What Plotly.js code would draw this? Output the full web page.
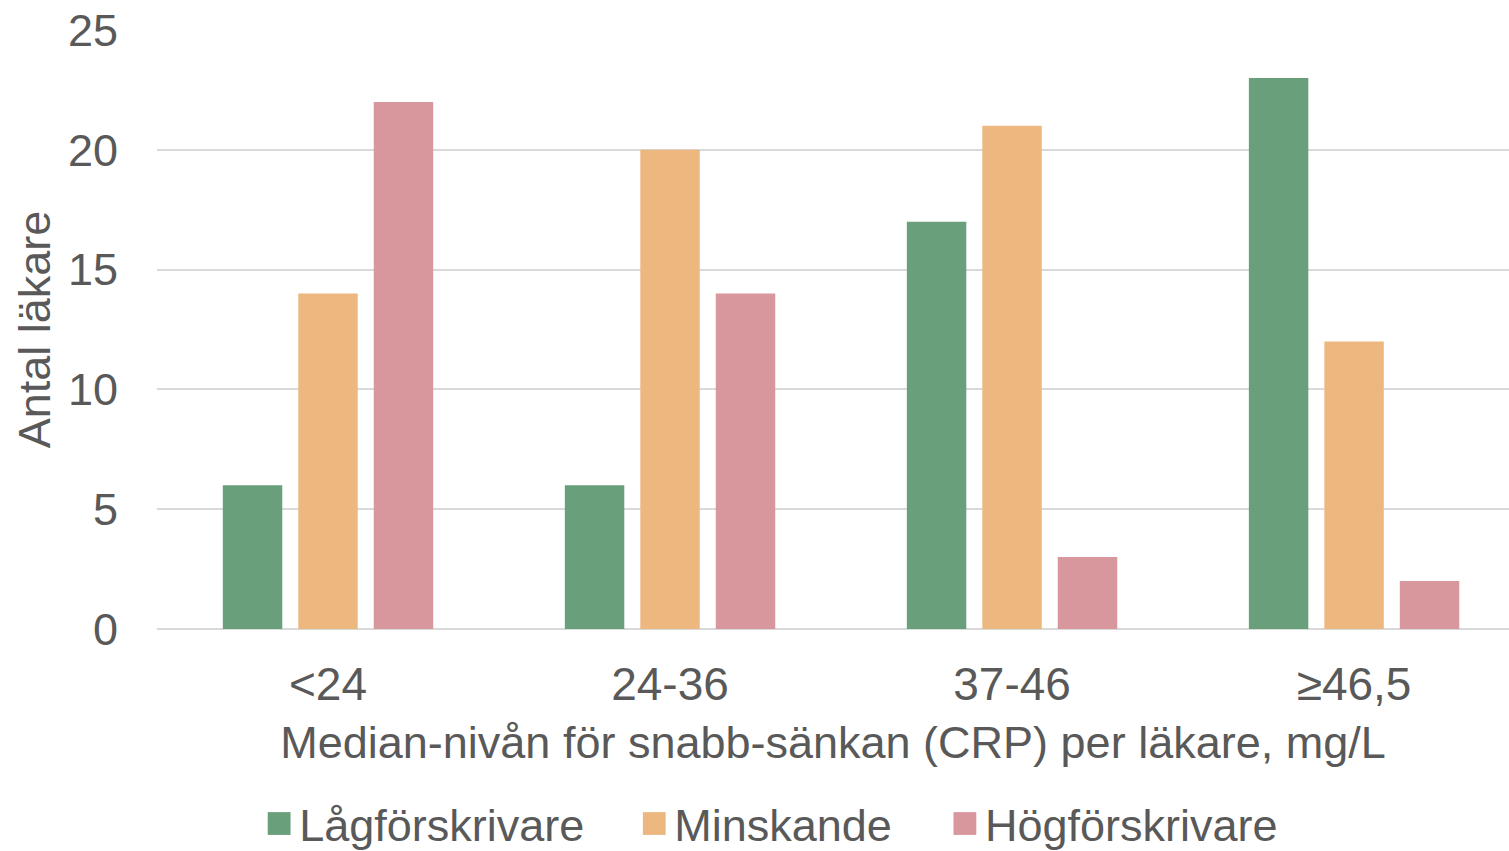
<!DOCTYPE html>
<html>
<head>
<meta charset="utf-8">
<script src="https://cdn.plot.ly/plotly-3.0.1.min.js"></script>
<style>html,body{margin:0;padding:0;background:#fff;}#chart{width:1509px;height:851px;}</style>
</head>
<body>
<div id="chart"></div>
<script>
const categories = ["<24", "24-36", "37-46", "≥46,5"];
const seriesNames = ["Lågförskrivare", "Minskande", "Högförskrivare"];
const lagforskrivare = [6, 6, 17, 23];
const minskande = [14, 20, 21, 12];
const hogforskrivare = [22, 14, 3, 2];
const yTicks = [0, 5, 10, 15, 20, 25];
const colors = ["#69A07B", "#EDB880", "#D8979D"];

const FONT = "Liberation Sans, Arial, sans-serif";
const TXT = "#595959";
const values = [lagforskrivare, minskande, hogforskrivare];

const traces = values.map((v, i) => ({
  type: "bar",
  name: seriesNames[i],
  x: categories,
  y: v,
  marker: {color: colors[i], line: {width: 0}},
  hoverinfo: "x+y+name"
}));

const layout = {
  width: 1509, height: 851,
  margin: {l: 157, r: 0, t: 30, b: 222, autoexpand: false},
  paper_bgcolor: "#fff", plot_bgcolor: "#fff",
  font: {family: FONT, color: TXT, size: 45},
  barmode: "group",
  bargap: 0.338,
  bargroupgap: 0.212,
  xaxis: {
    type: "category",
    range: [-0.5, 3.453],
    showgrid: false, zeroline: false, showline: false,
    ticks: "",
    tickfont: {size: 46, color: TXT, family: FONT},
    ticklabelstandoff: 24,
    automargin: false,
    title: {text: "Median-nivån för snabb-sänkan (CRP) per läkare, mg/L", font: {size: 45, color: TXT, family: FONT}, standoff: 17}
  },
  yaxis: {
    range: [0, 25],
    tickvals: yTicks,
    ticktext: yTicks.map(String),
    showgrid: true, gridcolor: "#D9D9D9", gridwidth: 2,
    zeroline: true, zerolinecolor: "#D9D9D9", zerolinewidth: 2,
    showline: false, ticks: "",
    tickfont: {size: 45, color: TXT, family: FONT},
    ticklabelstandoff: 38,
    automargin: false,
    title: {text: "Antal läkare", font: {size: 45, color: TXT, family: FONT}, standoff: 3}
  },
  showlegend: true,
  legend: {
    orientation: "h",
    xref: "container", yref: "container",
    x: 0.512, xanchor: "center",
    y: 0.032, yanchor: "middle",
    font: {size: 45, color: TXT, family: FONT},
    itemwidth: 30,
    traceorder: "normal"
  }
};

// legend styling: larger swatches and wider gaps between entries (as in the reference)
const SWATCH_SCALE = 1.9;
const ENTRY_GAPS = [70, 73];

const gd = document.getElementById("chart");
Plotly.newPlot(gd, traces, layout, {displayModeBar: false, staticPlot: true}).then(() => {
  const legend = gd.querySelector(".legend");
  legend.removeAttribute("clip-path");
  legend.querySelectorAll("[clip-path]").forEach(el => el.removeAttribute("clip-path"));
  const items = Array.from(legend.querySelectorAll(".traces"));
  items.forEach(it => {
    it.querySelectorAll(".legendpoints path").forEach(p => {
      const t = p.getAttribute("transform") || "";
      p.setAttribute("transform", t + " scale(" + SWATCH_SCALE + ")");
    });
  });
  const getXY = el => {
    const m = /translate\(\s*([-\d.]+)[ ,]+([-\d.]+)\s*\)/.exec(el.getAttribute("transform") || "");
    return m ? [parseFloat(m[1]), parseFloat(m[2])] : [0, 0];
  };
  const shift = (el, dx) => {
    const [x, y] = getXY(el);
    el.setAttribute("transform", "translate(" + (x + dx) + "," + y + ")");
  };
  for (let i = 1; i < items.length; i++) {
    const prevText = items[i - 1].querySelector("text").getBoundingClientRect();
    const sw = items[i].querySelector(".legendpoints path").getBoundingClientRect();
    const center = sw.left + sw.width / 2;
    shift(items[i], prevText.right + ENTRY_GAPS[i - 1] - center);
  }
  // re-centre the whole legend on layout.legend.x
  const first = items[0].querySelector(".legendpoints path").getBoundingClientRect();
  const last = items[items.length - 1].querySelector("text").getBoundingClientRect();
  const mid = (first.left + last.right) / 2;
  const target = layout.legend.x * layout.width;
  items.forEach(it => shift(it, target - mid));

  // make the legend background box hug the moved entries
  const bg = legend.querySelector("rect.bg");
  if (bg) {
    const bgBox = bg.getBoundingClientRect();
    const originX = bgBox.left - parseFloat(bg.getAttribute("x") || 0);
    const originY = bgBox.top - parseFloat(bg.getAttribute("y") || 0);
    let l = Infinity, r = -Infinity, t = Infinity, b = -Infinity;
    items.forEach(it => {
      const bb = it.getBoundingClientRect();
      l = Math.min(l, bb.left); r = Math.max(r, bb.right);
      t = Math.min(t, bb.top); b = Math.max(b, bb.bottom);
    });
    bg.setAttribute("x", l - originX);
    bg.setAttribute("width", r - l);
    bg.setAttribute("y", t - originY);
    bg.setAttribute("height", Math.min(b, layout.height) - t);
  }
});
</script>
</body>
</html>
